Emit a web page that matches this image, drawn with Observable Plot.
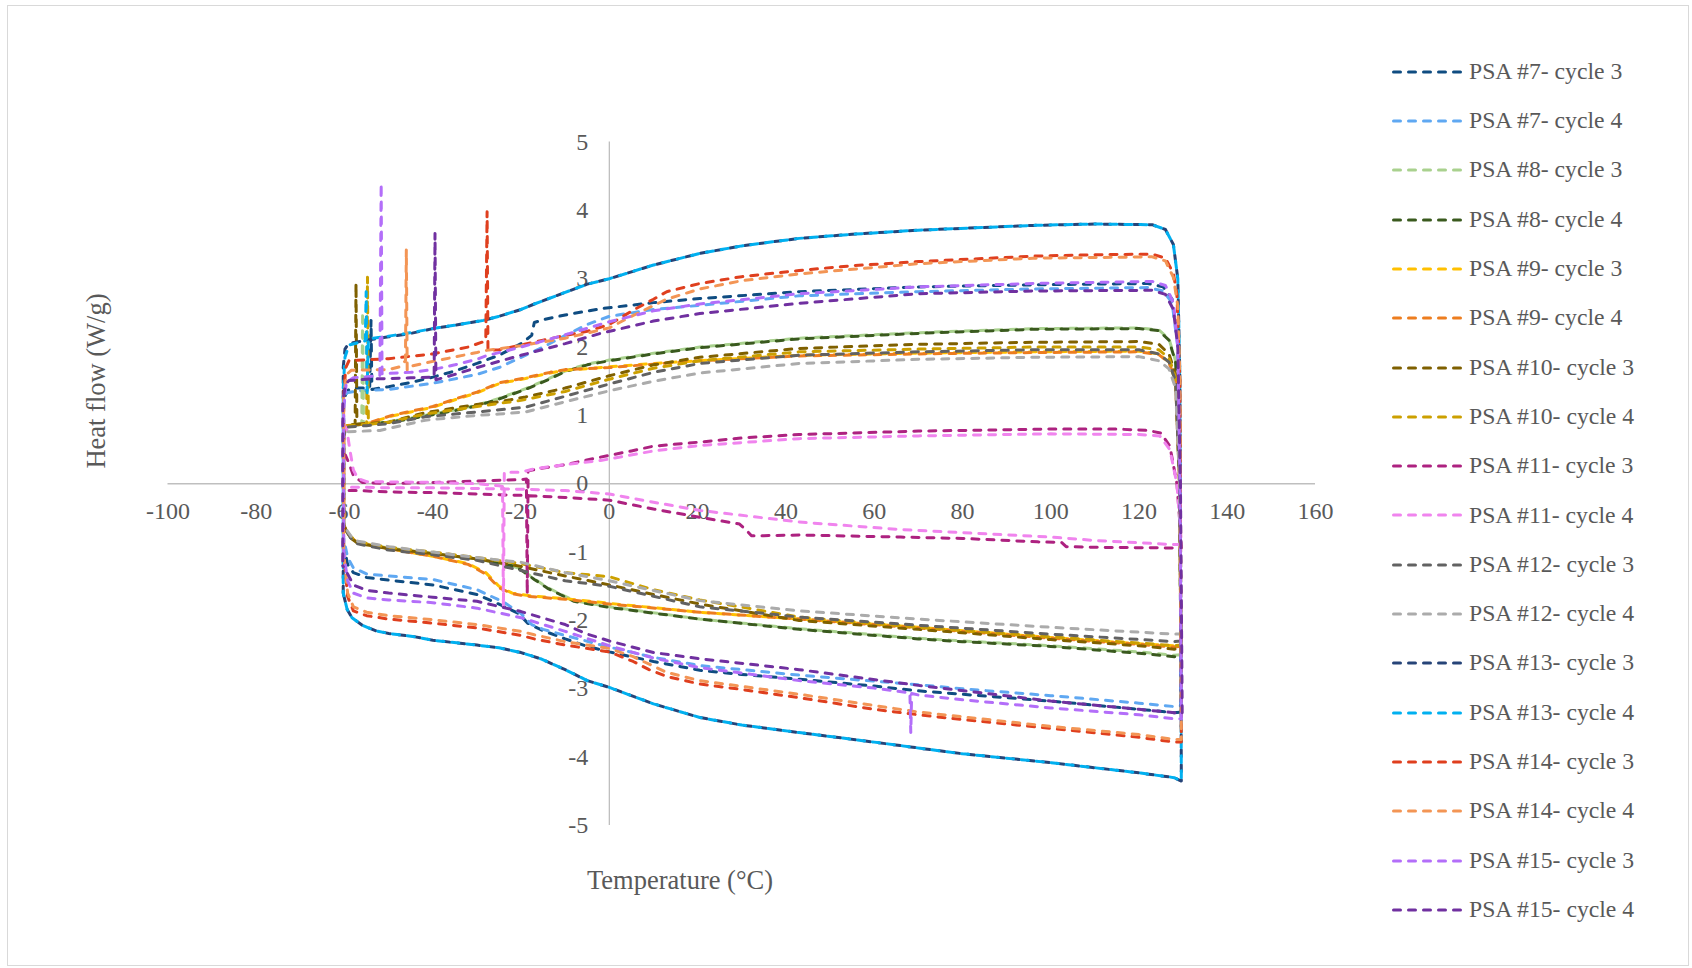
<!DOCTYPE html>
<html>
<head>
<meta charset="utf-8">
<script src="https://cdn.jsdelivr.net/npm/d3@7"></script>
<script src="https://cdn.jsdelivr.net/npm/@observablehq/plot@0.6"></script>
<style>
  html, body { margin: 0; padding: 0; background: #fff; }
  #wrap { position: relative; width: 1692px; height: 968px; overflow: hidden; background: #fff;
          font-family: "Liberation Serif", "Times New Roman", serif; color: #595959; }
  #frame { position: absolute; left: 7px; top: 5px; width: 1680px; height: 959px; border: 1.5px solid #d9d9d9; }
  #chart { position: absolute; left: 0; top: 0; }
  .title { position: absolute; white-space: nowrap; font-size: 26.5px; line-height: 1; }
  #ytitle { left: 96px; top: 381px; transform: translate(-50%, -50%) rotate(-90deg); }
  #xtitle { left: 680px; top: 880px; transform: translate(-50%, -50%); }
  .lg { position: absolute; left: 1392px; height: 30px; display: flex; align-items: center; font-size: 23.7px; white-space: nowrap; }
  .lg svg { display: block; }
  .lg span { margin-left: 6px; line-height: 1; }
</style>
</head>
<body>
<div id="wrap">
  <div id="frame"></div>
  <div id="chart"></div>
  <div class="title" id="ytitle">Heat flow (W/g)</div>
  <div class="title" id="xtitle">Temperature (°C)</div>
  <div id="legend"></div>
</div>
<script>
// ---- axis ticks ----
const xTicks = [-100, -80, -60, -40, -20, 0, 20, 40, 60, 80, 100, 120, 140, 160];
const yTicks = [-5, -4, -3, -2, -1, 0, 1, 2, 3, 4, 5];

// ---- series names & colours ----
const seriesNames = [
  "PSA #7- cycle 3", "PSA #7- cycle 4", "PSA #8- cycle 3", "PSA #8- cycle 4",
  "PSA #9- cycle 3", "PSA #9- cycle 4", "PSA #10- cycle 3", "PSA #10- cycle 4",
  "PSA #11- cycle 3", "PSA #11- cycle 4", "PSA #12- cycle 3", "PSA #12- cycle 4",
  "PSA #13- cycle 3", "PSA #13- cycle 4", "PSA #14- cycle 3", "PSA #14- cycle 4",
  "PSA #15- cycle 3", "PSA #15- cycle 4"
];
const seriesColors = [
  "#0F4C81", "#5FA8F2", "#A9D18E", "#3A5A1E",
  "#FFC000", "#ED7D1F", "#7F6000", "#CCA000",
  "#AD2280", "#F084EE", "#626262", "#ABABAB",
  "#264478", "#00B0F0", "#DF3F1E", "#F39555",
  "#B36EF9", "#7030A0"
];

// ---- data: [temperature °C, heat flow W/g] in path order (heating top, cooling bottom) ----
const psa7c3 = [[-60.2,-0.9],[-60.2,1.2],[-59.5,1.36],[-58,1.4],[-54.3,1.4],[-54,2.39],[-53.8,1.38],[-50,1.42],[-45,1.48],[-40,1.56],[-35,1.65],[-30,1.76],[-25,1.88],[-20,2.05],[-17.6,2.17],[-17,2.36],[-15,2.4],[-10,2.47],[-2,2.56],[10,2.65],[20.5,2.71],[43,2.81],[70,2.88],[96,2.91],[122,2.93],[125.5,2.88],[127.5,2.7],[128.8,2.1],[129.3,0],[129.5,-3.34],
  [128,-3.35],[120,-3.3],[100,-3.18],[80,-3.08],[70,-3.03],[60,-2.96],[43,-2.86],[30,-2.79],[20.5,-2.73],[10,-2.6],[0,-2.46],[-5,-2.38],[-10,-2.27],[-15,-2.15],[-18.5,-2.04],[-20.5,-1.9],[-24,-1.79],[-30,-1.62],[-40,-1.48],[-50,-1.41],[-55,-1.37],[-58,-1.3],[-59.3,-1.18],[-60.2,-0.9]];
const psa7c4 = [[-60.2,-0.8],[-60.2,1.15],[-59.5,1.33],[-57,1.36],[-50,1.38],[-40,1.47],[-30,1.6],[-25,1.7],[-20,1.85],[-15,2.0],[-10,2.17],[-5,2.33],[0,2.45],[10,2.55],[20.5,2.61],[43,2.75],[70,2.81],[96,2.85],[122,2.87],[125.5,2.82],[127.5,2.65],[128.8,2.0],[129.3,0],[129.5,-3.25],
  [128,-3.26],[120,-3.21],[100,-3.1],[80,-3.0],[70,-2.94],[43,-2.8],[20.5,-2.66],[10,-2.54],[0,-2.39],[-10,-2.22],[-15,-2.13],[-17.6,-2.06],[-20,-1.9],[-24,-1.73],[-30,-1.55],[-40,-1.4],[-50,-1.35],[-55,-1.32],[-58,-1.23],[-59.3,-1.08],[-60.2,-0.8]];
const psa8c3 = [[-60.2,-0.6],[-60.2,0.7],[-59.5,0.84],[-57.5,0.87],[-56.1,0.88],[-55.9,2.51],[-55.7,0.87],[-50,0.91],[-45,0.96],[-40,1.02],[-35,1.08],[-30,1.15],[-25,1.25],[-19,1.39],[-15,1.5],[-10,1.65],[-5,1.75],[0,1.81],[10,1.91],[20.5,2.0],[43,2.13],[70,2.21],[96,2.27],[120,2.28],[124.5,2.25],[126.8,2.12],[128.3,1.8],[129.2,0.5],[129.5,-2.5],
  [128,-2.51],[120,-2.46],[100,-2.37],[80,-2.3],[70,-2.26],[43,-2.12],[20.5,-1.98],[0,-1.8],[-8,-1.71],[-14,-1.52],[-17,-1.39],[-20,-1.25],[-22,-1.2],[-30,-1.1],[-40,-1.02],[-50,-0.94],[-57,-0.86],[-58.5,-0.79],[-59.5,-0.7],[-60.2,-0.6]];
const psa8c4 = [[-60.2,-0.6],[-60.2,0.72],[-59.5,0.85],[-55,0.87],[-50,0.9],[-45,0.95],[-40,1.01],[-35,1.07],[-30,1.14],[-25,1.24],[-19,1.38],[-15,1.49],[-10,1.64],[-5,1.74],[0,1.8],[10,1.9],[20.5,1.99],[43,2.12],[70,2.2],[96,2.26],[120,2.27],[124.5,2.24],[126.8,2.1],[128.3,1.78],[129.2,0.5],[129.5,-2.52],
  [128,-2.53],[120,-2.48],[100,-2.38],[80,-2.31],[70,-2.27],[43,-2.13],[20.5,-1.98],[0,-1.81],[-8,-1.72],[-14,-1.53],[-17,-1.4],[-20,-1.26],[-22,-1.2],[-30,-1.11],[-40,-1.03],[-50,-0.95],[-57,-0.87],[-58.5,-0.8],[-59.5,-0.7],[-60.2,-0.6]];
const psa9c3 = [[-60.2,-0.6],[-60.2,0.7],[-59.5,0.85],[-55,0.88],[-49.3,0.99],[-45,1.05],[-40,1.12],[-34,1.25],[-30,1.33],[-26.7,1.42],[-24.7,1.47],[-19,1.54],[-13.4,1.62],[-10,1.66],[0,1.71],[10,1.76],[20.5,1.8],[43,1.88],[70,1.91],[96,1.93],[120,1.94],[124.5,1.9],[126.8,1.78],[128.3,1.5],[129.2,0],[129.5,-2.36],
  [128,-2.37],[120,-2.34],[100,-2.25],[70,-2.1],[43,-1.98],[20.5,-1.88],[0,-1.75],[-10,-1.68],[-18,-1.64],[-22,-1.6],[-25,-1.5],[-28,-1.3],[-32,-1.17],[-40,-1.06],[-50,-0.95],[-57,-0.86],[-58.5,-0.79],[-59.5,-0.7],[-60.2,-0.6]];
const psa9c4 = [[-60.2,-0.6],[-60.2,0.7],[-59.5,0.85],[-55,0.88],[-49.3,1.0],[-45,1.06],[-40,1.13],[-34,1.26],[-30,1.34],[-26.7,1.43],[-24.7,1.48],[-19,1.55],[-13.4,1.63],[-10,1.67],[0,1.7],[10,1.75],[20.5,1.8],[43,1.87],[70,1.9],[96,1.92],[120,1.93],[124.5,1.89],[126.8,1.77],[128.3,1.5],[129.2,0],[129.5,-2.38],
  [128,-2.39],[120,-2.35],[100,-2.26],[70,-2.11],[43,-1.98],[20.5,-1.88],[0,-1.76],[-10,-1.69],[-18,-1.65],[-22,-1.61],[-25,-1.52],[-28,-1.32],[-32,-1.18],[-40,-1.06],[-50,-0.95],[-57,-0.86],[-58.5,-0.79],[-59.5,-0.7],[-60.2,-0.6]];
const psa10c3 = [[-60.2,-0.6],[-60.2,0.7],[-59.5,0.85],[-57.6,0.87],[-57.4,2.93],[-57.2,0.87],[-50,0.9],[-41.7,1.04],[-30,1.16],[-24.7,1.2],[-19,1.27],[-10,1.4],[0,1.58],[10,1.74],[20.5,1.85],[43,1.98],[70,2.04],[96,2.07],[120,2.08],[124.5,2.04],[126.8,1.9],[128.3,1.6],[129.2,0],[129.5,-2.41],
  [128,-2.42],[120,-2.37],[100,-2.28],[70,-2.13],[43,-2.0],[20.5,-1.76],[10,-1.62],[0,-1.48],[-10,-1.35],[-20,-1.21],[-30,-1.1],[-40,-1.02],[-50,-0.95],[-57,-0.87],[-58.5,-0.8],[-59.5,-0.7],[-60.2,-0.6]];
const psa10c4 = [[-60.2,-0.6],[-60.2,0.7],[-59.5,0.85],[-55,0.87],[-54.8,3.02],[-54.6,0.87],[-50,0.9],[-41.7,1.02],[-30,1.13],[-20,1.22],[-10,1.35],[0,1.53],[10,1.69],[20.5,1.8],[43,1.93],[70,1.97],[96,2.0],[120,2.0],[124.5,1.96],[126.8,1.84],[128.3,1.55],[129.2,0],[129.5,-2.36],
  [128,-2.37],[120,-2.33],[100,-2.24],[70,-2.1],[43,-1.95],[20.5,-1.7],[10,-1.55],[0,-1.36],[-10,-1.3],[-20,-1.17],[-30,-1.08],[-40,-1.0],[-50,-0.93],[-57,-0.85],[-58.5,-0.78],[-59.5,-0.7],[-60.2,-0.6]];
const psa11c3 = [[-60.3,-0.1],[-60.3,0.35],[-59.8,0.42],[-59,0.3],[-58,0.12],[-56,0.02],[-50,0.0],[-40,0.02],[-30,0.04],[-20,0.06],[-18.8,0.07],[-18.6,-1.61],[-18.4,0.19],[-15,0.23],[-10,0.28],[-2,0.39],[5,0.48],[10,0.55],[20.5,0.61],[30,0.67],[43,0.72],[70,0.77],[100,0.8],[115,0.8],[122,0.78],[125,0.74],[127,0.55],[128.6,0.0],[129.3,-0.6],[129.6,-0.94],
  [128,-0.94],[110,-0.93],[103.5,-0.92],[102.5,-0.86],[97,-0.85],[80,-0.8],[66,-0.78],[43,-0.75],[35,-0.76],[32.2,-0.76],[31.2,-0.69],[29.5,-0.59],[20.5,-0.49],[10,-0.37],[0,-0.24],[-10,-0.2],[-20,-0.17],[-30,-0.15],[-40,-0.13],[-50,-0.12],[-57,-0.1],[-59.5,-0.1],[-60.3,-0.1]];
const psa11c4 = [[-60.3,-0.05],[-60.3,0.6],[-60,0.85],[-59.5,0.8],[-58.8,0.5],[-58,0.2],[-57,0.08],[-55,0.03],[-40,0.02],[-30,0.0],[-25,-0.03],[-24.2,-0.04],[-24,-1.81],[-23.8,0.17],[-20,0.17],[-17,0.22],[-10,0.28],[-2,0.34],[10,0.48],[20.5,0.56],[43,0.66],[70,0.7],[100,0.73],[120,0.72],[124.7,0.7],[127,0.5],[128.6,0.0],[129.3,-0.6],[129.6,-0.89],
  [128,-0.89],[110,-0.83],[100,-0.78],[66,-0.67],[43,-0.56],[20.5,-0.39],[10,-0.27],[0,-0.15],[-10,-0.1],[-20,-0.08],[-30,-0.07],[-40,-0.06],[-50,-0.06],[-57,-0.05],[-60.3,-0.05]];
const psa12c3 = [[-60.2,-0.6],[-60.2,0.7],[-59.5,0.83],[-55,0.85],[-50,0.88],[-41.7,0.98],[-30,1.05],[-19,1.12],[-10,1.28],[0,1.46],[10,1.63],[20.5,1.76],[43,1.88],[70,1.93],[96,1.96],[120,1.96],[124.5,1.9],[126.8,1.78],[128.3,1.5],[129.2,0],[129.5,-2.3],
  [128,-2.31],[100,-2.2],[70,-2.07],[43,-1.95],[20.5,-1.8],[0,-1.5],[-10,-1.42],[-20,-1.27],[-30,-1.12],[-40,-1.04],[-50,-0.97],[-57,-0.88],[-58.5,-0.8],[-59.5,-0.7],[-60.2,-0.6]];
const psa12c4 = [[-60.2,-0.6],[-60.2,0.65],[-59.5,0.76],[-52,0.78],[-41.7,0.93],[-30,1.0],[-25,1.02],[-19,1.05],[-10,1.2],[0,1.36],[10,1.5],[20.5,1.62],[43,1.76],[70,1.82],[96,1.85],[120,1.86],[124.5,1.8],[126.8,1.68],[128.3,1.4],[129.2,0],[129.5,-2.2],
  [128,-2.2],[100,-2.1],[70,-1.98],[43,-1.86],[20.5,-1.71],[0,-1.42],[-10,-1.3],[-20,-1.15],[-30,-1.08],[-40,-1.0],[-50,-0.92],[-57,-0.84],[-58.5,-0.77],[-59.5,-0.68],[-60.2,-0.6]];
const psa13c3 = [[-60.3,-1.6],[-60.3,1.7],[-59.9,1.97],[-59.1,2.05],[-55,2.1],[-50,2.15],[-45,2.2],[-40,2.27],[-35,2.32],[-28.5,2.39],[-25,2.45],[-20,2.55],[-17,2.63],[-10,2.8],[-5,2.92],[0,3.0],[10,3.2],[20.5,3.37],[30,3.48],[43,3.59],[55,3.65],[70,3.71],[96,3.78],[110,3.8],[123,3.79],[126,3.72],[127.8,3.5],[128.8,3.0],[129.3,1.5],[129.6,-4.35],
  [128,-4.3],[120,-4.23],[100,-4.08],[80,-3.95],[70.4,-3.87],[60,-3.78],[43,-3.64],[30,-3.53],[20.5,-3.42],[10,-3.22],[5,-3.1],[0,-2.98],[-5,-2.88],[-10,-2.72],[-15.6,-2.56],[-20,-2.47],[-25,-2.4],[-30,-2.36],[-40,-2.29],[-44,-2.24],[-50,-2.19],[-53,-2.15],[-56,-2.07],[-58.3,-1.96],[-59.4,-1.84],[-60.3,-1.6]];
const psa13c4 = [[-60.3,-1.6],[-60.3,1.4],[-59.9,1.85],[-59,2.03],[-55.3,2.09],[-55.1,2.81],[-54.9,1.33],[-54.6,2.12],[-50,2.16],[-45,2.21],[-40,2.27],[-35,2.32],[-28.5,2.39],[-25,2.45],[-20,2.55],[-17,2.63],[-10,2.8],[-5,2.92],[0,3.0],[10,3.2],[20.5,3.37],[30,3.48],[43,3.59],[55,3.65],[70,3.71],[96,3.78],[110,3.8],[123,3.79],[126,3.72],[127.8,3.5],[128.8,3.0],[129.3,1.5],[129.6,-4.35],
  [128,-4.3],[120,-4.23],[100,-4.08],[80,-3.95],[70.4,-3.87],[60,-3.78],[43,-3.64],[30,-3.53],[20.5,-3.42],[10,-3.22],[5,-3.1],[0,-2.98],[-5,-2.88],[-10,-2.72],[-15.6,-2.56],[-20,-2.47],[-25,-2.4],[-30,-2.36],[-40,-2.29],[-44,-2.24],[-50,-2.19],[-53,-2.15],[-56,-2.07],[-58.3,-1.96],[-59.4,-1.84],[-60.3,-1.6]];
const psa14c3 = [[-60.2,-1.0],[-60.2,1.3],[-59.7,1.7],[-59,1.8],[-50,1.83],[-40,1.9],[-32,2.0],[-28,2.09],[-27.7,3.98],[-27.5,1.95],[-25,1.96],[-20,2.03],[-15,2.1],[-10,2.17],[-5,2.23],[-2,2.29],[0,2.33],[5.4,2.54],[10,2.7],[13,2.81],[20.5,2.93],[30,3.03],[43,3.12],[55,3.19],[70,3.25],[96,3.33],[110,3.35],[123,3.36],[126,3.3],[127.8,3.08],[128.6,2.77],[129.3,1.5],[129.6,-3.78],
  [128,-3.78],[120,-3.71],[100,-3.58],[80,-3.45],[70,-3.38],[60,-3.3],[43,-3.13],[30,-3.01],[20.5,-2.93],[13,-2.82],[9,-2.72],[5.4,-2.6],[0,-2.46],[-10,-2.36],[-17,-2.27],[-20,-2.22],[-30,-2.11],[-40,-2.04],[-50,-1.98],[-55,-1.93],[-58,-1.86],[-59.3,-1.65],[-60.2,-1.0]];
const psa14c4 = [[-60.2,-1.0],[-60.2,1.3],[-59.5,1.6],[-58.5,1.66],[-50,1.67],[-47.5,1.71],[-46.2,1.8],[-46,3.42],[-45.8,1.66],[-45,1.72],[-40,1.79],[-30,1.92],[-28,1.95],[-20,2.02],[-10,2.13],[0,2.28],[5,2.45],[13,2.7],[20.5,2.85],[30,2.97],[43,3.07],[70,3.22],[96,3.3],[123,3.32],[126,3.26],[127.8,3.02],[128.8,2.6],[129.3,1.5],[129.6,-3.74],
  [128,-3.74],[120,-3.67],[100,-3.55],[70,-3.34],[43,-3.08],[20.5,-2.88],[13,-2.76],[5.4,-2.53],[0,-2.41],[-10,-2.31],[-17,-2.21],[-20,-2.16],[-30,-2.06],[-40,-1.99],[-50,-1.93],[-55,-1.88],[-58,-1.8],[-59.3,-1.6],[-60.2,-1.0]];
const psa15c3 = [[-60.2,-1.0],[-60.2,1.1],[-59.6,1.48],[-58,1.55],[-52,1.58],[-51.7,4.39],[-51.5,1.61],[-45,1.63],[-40,1.67],[-35,1.74],[-30,1.82],[-28,1.87],[-20,2.0],[-10,2.18],[0,2.37],[10,2.53],[20.5,2.63],[43,2.78],[70,2.88],[96,2.93],[123,2.96],[126,2.9],[127.8,2.65],[128.8,2.0],[129.3,0],[129.6,-3.44],
  [128,-3.44],[120,-3.38],[100,-3.28],[80,-3.16],[70,-3.09],[68.5,-3.07],[68.3,-3.64],[68.1,-3.06],[60,-2.99],[43,-2.88],[20.5,-2.69],[10,-2.55],[0,-2.37],[-10,-2.16],[-20,-1.96],[-30,-1.82],[-40,-1.74],[-50,-1.7],[-55,-1.67],[-58,-1.6],[-59.3,-1.42],[-60.2,-1.0]];
const psa15c4 = [[-60.4,-1.2],[-60.4,1.2],[-59.8,1.45],[-59,1.51],[-55,1.53],[-45,1.55],[-39.7,1.56],[-39.5,3.66],[-39.3,1.52],[-35,1.6],[-30,1.7],[-25,1.79],[-20,1.88],[-10,2.05],[-2,2.2],[10,2.38],[20.5,2.49],[43,2.64],[70,2.78],[96,2.82],[123,2.83],[126,2.77],[127.8,2.55],[128.8,2.0],[129.4,0],[129.8,-3.36],
  [128,-3.35],[120,-3.3],[100,-3.18],[70,-2.95],[43,-2.72],[20.5,-2.56],[10,-2.47],[0,-2.3],[-5,-2.2],[-10,-2.06],[-20,-1.87],[-24,-1.81],[-30,-1.72],[-40,-1.66],[-50,-1.6],[-55,-1.56],[-58,-1.48],[-59.3,-1.32],[-60.4,-1.2]];

const seriesData = [psa7c3, psa7c4, psa8c3, psa8c4, psa9c3, psa9c4, psa10c3, psa10c4,
  psa11c3, psa11c4, psa12c3, psa12c4, psa13c3, psa13c4, psa14c3, psa14c4, psa15c3, psa15c4];

// ---- styling ----
const DASH = "7,8";
const LW = 3;
const dashOffsets = seriesNames.map((_, i) => (i * 5) % 15);
const textColor = "#595959";
const fontFam = "'Liberation Serif', 'Times New Roman', serif";

const lineMarks = seriesData.map((pts, i) =>
  Plot.line(pts.map(([T, H]) => ({T, H, series: seriesNames[i]})), {
    x: "T", y: "H",
    stroke: seriesColors[i],
    strokeWidth: LW,
    strokeDasharray: DASH,
    strokeDashoffset: dashOffsets[i],
    strokeLinecap: "round",
    strokeLinejoin: "round",
    curve: "linear"
  })
);

const chart = Plot.plot({
  width: 1692,
  height: 968,
  marginLeft: 167.5,
  marginRight: 377,
  marginTop: 141.5,
  marginBottom: 143,
  x: {domain: [-100, 160], axis: null},
  y: {domain: [-5, 5], axis: null},
  style: {fontFamily: fontFam, background: "transparent", overflow: "visible"},
  marks: [
    Plot.ruleY([0], {stroke: "#bfbfbf", strokeWidth: 1.3}),
    Plot.ruleX([0], {stroke: "#bfbfbf", strokeWidth: 1.3}),
    Plot.text(xTicks, {x: d => d, y: d => 0, dy: 28, text: d => String(d), fontSize: 24, fill: textColor}),
    Plot.text(yTicks, {x: d => 0, y: d => d, dx: -21, textAnchor: "end", text: d => String(d), fontSize: 24, fill: textColor}),
    ...lineMarks
  ]
});
document.getElementById("chart").appendChild(chart);

// ---- legend ----
const legend = document.getElementById("legend");
seriesNames.forEach((name, i) => {
  const cy = 71.7 + 49.3 * i;
  const row = document.createElement("div");
  row.className = "lg";
  row.style.top = (cy - 15) + "px";
  row.innerHTML = `<svg width="71" height="10"><line x1="1.5" y1="5" x2="69.5" y2="5" stroke="${seriesColors[i]}" stroke-width="${LW}" stroke-dasharray="${DASH}" stroke-linecap="round"/></svg><span>${name}</span>`;
  legend.appendChild(row);
});
</script>
</body>
</html>
